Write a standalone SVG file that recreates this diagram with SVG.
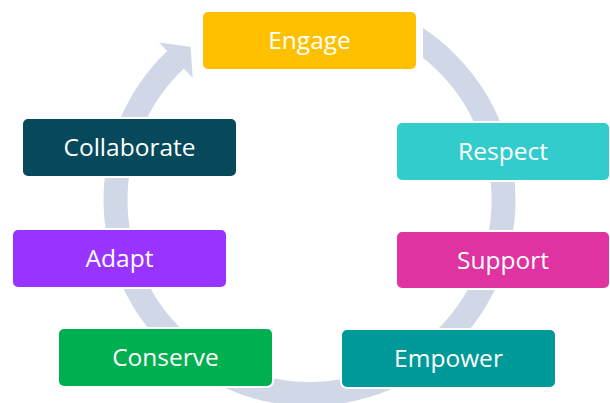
<svg xmlns="http://www.w3.org/2000/svg" width="610" height="403" viewBox="0 0 610 403">
<style>
.box{stroke:#ffffff;stroke-width:2}
.lbl{font-family:"Open Sans","Noto Sans","Liberation Sans",sans-serif;font-size:24.5px;fill:#ffffff;text-anchor:middle}
</style>
<rect width="610" height="403" fill="#ffffff"/>
<g id="connectors">
<path d="M423,28.1 A206,206 0 1 1 167.2,51.1 L158.9,42.4 L190.6,46.7 L192.7,77.8 L183.8,68.4 A182,182 0 1 0 423,57.7 Z" fill="#D0D7E7"/>
</g>
<g id="engage"><rect class="box" x="202" y="11" width="215" height="59" rx="6" fill="#FFC000"/><text class="lbl" x="309.5" y="49">Engage</text></g>
<g id="respect"><rect class="box" x="396" y="122" width="214" height="59" rx="6" fill="#33CCCC"/><text class="lbl" x="503" y="160">Respect</text></g>
<g id="support"><rect class="box" x="396" y="231" width="214" height="58" rx="6" fill="#DE33A1"/><text class="lbl" x="503" y="269">Support</text></g>
<g id="empower"><rect class="box" x="341" y="329" width="215" height="59" rx="6" fill="#009999"/><text class="lbl" x="448.5" y="367">Empower</text></g>
<g id="conserve"><rect class="box" x="58" y="328" width="215" height="59" rx="6" fill="#00B050"/><text class="lbl" x="165.5" y="366">Conserve</text></g>
<g id="adapt"><rect class="box" x="12" y="229" width="215" height="59" rx="6" fill="#9933FF"/><text class="lbl" x="119.5" y="267">Adapt</text></g>
<g id="collaborate"><rect class="box" x="22" y="118" width="215" height="59" rx="6" fill="#05495B"/><text class="lbl" x="129.5" y="156">Collaborate</text></g>
</svg>
